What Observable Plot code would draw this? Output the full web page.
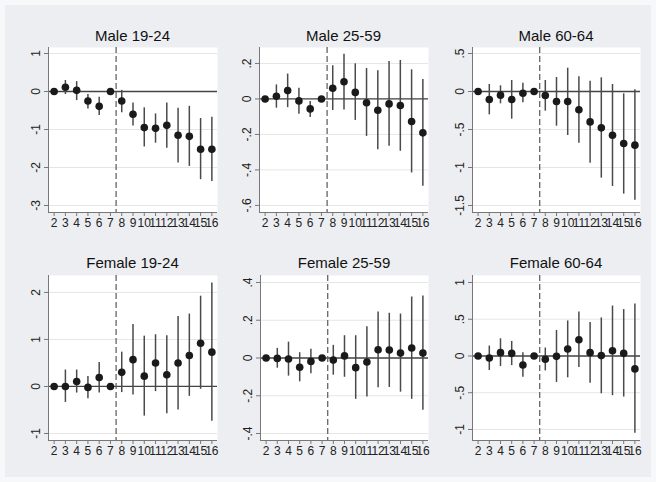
<!DOCTYPE html>
<html><head><meta charset="utf-8">
<script src="https://cdn.jsdelivr.net/npm/d3@7"></script>
<script src="https://cdn.jsdelivr.net/npm/@observablehq/plot@0.6"></script>
<style>
body{margin:0;background:#f7f8f9;}
#fig{position:relative;width:656px;height:482px;background:#f7f8f9;font-family:"Liberation Sans",Arial,sans-serif;overflow:hidden;}
#inner{position:absolute;left:5px;top:5px;width:646px;height:472px;background:#eceef1;}
.title{position:absolute;text-align:center;font-size:15px;line-height:18px;color:#111;white-space:nowrap;}
.panel{position:absolute;}
</style></head><body><div id="fig"><div id="inner"></div></div>
<script>
// ---- data ----
const periods = [2,3,4,5,6,7,8,9,10,11,12,13,14,15,16];
const eventBreak = 7.5;
const titles = ["Male 19-24","Male 25-59","Male 60-64","Female 19-24","Female 25-59","Female 60-64"];

const m1924_est = [0, 0.11, 0.03, -0.25, -0.39, 0, -0.25, -0.60, -0.95, -0.97, -0.89, -1.15, -1.18, -1.52, -1.52];
const m1924_lo  = [0, -0.08, -0.24, -0.46, -0.63, 0, -0.56, -0.91, -1.46, -1.36, -1.49, -1.88, -1.97, -2.32, -2.37];
const m1924_hi  = [0, 0.29, 0.26, -0.08, -0.15, 0, 0.03, -0.30, -0.43, -0.59, -0.30, -0.44, -0.39, -0.71, -0.68];
const m1924_ticks = [1, 0, -1, -2, -3];

const m2559_est = [0, 0.015, 0.047, -0.011, -0.056, 0, 0.060, 0.097, 0.037, -0.021, -0.064, -0.028, -0.037, -0.127, -0.191];
const m2559_lo  = [0, -0.052, -0.049, -0.086, -0.105, 0, -0.065, -0.062, -0.121, -0.211, -0.286, -0.267, -0.295, -0.417, -0.492];
const m2559_hi  = [0, 0.079, 0.140, 0.060, -0.015, 0, 0.187, 0.252, 0.198, 0.172, 0.159, 0.211, 0.217, 0.164, 0.110];
const m2559_ticks = [0.2, 0, -0.2, -0.4, -0.6];

const m6064_est = [0, -0.105, -0.048, -0.105, -0.022, 0, -0.053, -0.132, -0.132, -0.241, -0.400, -0.478, -0.575, -0.684, -0.706];
const m6064_lo  = [0, -0.307, -0.162, -0.364, -0.149, 0, -0.259, -0.456, -0.579, -0.680, -0.943, -1.140, -1.250, -1.350, -1.430];
const m6064_hi  = [0, 0.092, 0.075, 0.145, 0.110, 0, 0.145, 0.184, 0.307, 0.193, 0.136, 0.180, 0.092, -0.031, 0.022];
const m6064_ticks = [0.5, 0, -0.5, -1, -1.5];

const f1924_est = [0, 0.00, 0.106, -0.02, 0.19, 0, 0.30, 0.57, 0.22, 0.50, 0.25, 0.50, 0.66, 0.92, 0.73];
const f1924_lo  = [0, -0.34, -0.14, -0.26, -0.14, 0, -0.13, -0.18, -0.63, -0.11, -0.58, -0.50, -0.21, -0.06, -0.74];
const f1924_hi  = [0, 0.35, 0.35, 0.21, 0.51, 0, 0.73, 1.32, 1.07, 1.10, 1.08, 1.49, 1.54, 1.92, 2.20];
const f1924_ticks = [2, 1, 0, -1];

const f2559_est = [0, -0.002, -0.005, -0.049, -0.018, 0, -0.011, 0.011, -0.051, -0.021, 0.044, 0.042, 0.026, 0.053, 0.026];
const f2559_lo  = [0, -0.054, -0.096, -0.126, -0.084, 0, -0.091, -0.102, -0.219, -0.207, -0.158, -0.156, -0.181, -0.219, -0.277];
const f2559_hi  = [0, 0.051, 0.084, 0.028, 0.046, 0, 0.067, 0.118, 0.118, 0.165, 0.244, 0.237, 0.233, 0.323, 0.328];
const f2559_ticks = [0.4, 0.2, 0, -0.2, -0.4];

const f6064_est = [0, -0.027, 0.045, 0.036, -0.122, 0, -0.045, -0.005, 0.095, 0.220, 0.045, 0.005, 0.072, 0.036, -0.176];
const f6064_lo  = [0, -0.198, -0.144, -0.131, -0.288, 0, -0.203, -0.360, -0.297, -0.158, -0.370, -0.514, -0.540, -0.559, -1.050];
const f6064_hi  = [0, 0.135, 0.234, 0.198, 0.045, 0, 0.108, 0.347, 0.477, 0.600, 0.455, 0.518, 0.680, 0.631, 0.707];
const f6064_ticks = [1, 0.5, 0, -0.5, -1];

// axis ranges (scale domains)
const xRange = [1.5, 16.5];
const yRanges = [[-3.184, 1.158], [-0.64, 0.29], [-1.592, 0.579], [-1.149, 2.36], [-0.437, 0.437], [-1.15, 1.095]];

// ---- layout ----
const boxes = [[48,217,47,212],[259,428,47,212],[472,640,47,212],[48,217,275,440],[260,428,275,440],[472,640,275,440]];
const titleY = [27, 27, 27, 254, 254, 254];

const panels = [
  [m1924_est, m1924_lo, m1924_hi, m1924_ticks],
  [m2559_est, m2559_lo, m2559_hi, m2559_ticks],
  [m6064_est, m6064_lo, m6064_hi, m6064_ticks],
  [f1924_est, f1924_lo, f1924_hi, f1924_ticks],
  [f2559_est, f2559_lo, f2559_hi, f2559_ticks],
  [f6064_est, f6064_lo, f6064_hi, f6064_ticks]
];

const fmt = d => d === 0 ? "0" : String(d).replace("0.", ".");
const fig = document.getElementById("fig");
const ML = 30, MR = 4, MT = 4, MB = 28;

panels.forEach(([est, lo, hi, ticks], k) => {
  const box = boxes[k];
  const dom = yRanges[k];
  const data = periods.map((p, i) => ({p, est: est[i], lo: lo[i], hi: hi[i]}));
  const w = box[1] - box[0] + ML + MR, h = box[3] - box[2] + MT + MB;
  const chart = Plot.plot({
    width: w, height: h,
    marginLeft: ML, marginRight: MR, marginTop: MT, marginBottom: MB,
    style: {background: "transparent", fontFamily: '"Liberation Sans", Arial, sans-serif', fontSize: "12px", color: "#222", overflow: "visible"},
    x: {domain: xRange},
    y: {domain: dom},
    marks: [
      Plot.frame({fill: "white", stroke: null}),
      Plot.ruleY(ticks, {stroke: "#e6e6e6", strokeWidth: 1}),
      Plot.ruleY([0], {stroke: "#444", strokeWidth: 1.3}),
      Plot.ruleX([eventBreak], {stroke: "#666", strokeWidth: 1.3, strokeDasharray: "6,3"}),
      Plot.ruleX(data.filter(d => d.lo !== d.hi), {x: "p", y1: "lo", y2: "hi", stroke: "#4a4a4a", strokeWidth: 1.5}),
      Plot.dot(data, {x: "p", y: "est", r: 3.8, fill: "#1a1a1a", stroke: null}),
      Plot.ruleX([xRange[0]], {stroke: "#777", strokeWidth: 1}),
      Plot.ruleY([dom[0]], {stroke: "#777", strokeWidth: 1}),
      Plot.axisX({ticks: periods, tickFormat: d => String(d), tickSize: 4, tickPadding: 2, label: null, stroke: "#777", fill: "#222"}),
      Plot.axisY({ticks, tickFormat: fmt, tickSize: 4, tickRotate: -90, label: null, stroke: "#777", fill: "#222"})
    ]
  });
  chart.classList.add("panel");
  chart.style.left = (box[0] - ML) + "px";
  chart.style.top = (box[2] - MT) + "px";
  fig.appendChild(chart);
  const t = document.createElement("div");
  t.className = "title";
  t.textContent = titles[k];
  t.style.left = box[0] + "px";
  t.style.width = (box[1] - box[0]) + "px";
  t.style.top = titleY[k] + "px";
  fig.appendChild(t);
});
</script></body></html>
